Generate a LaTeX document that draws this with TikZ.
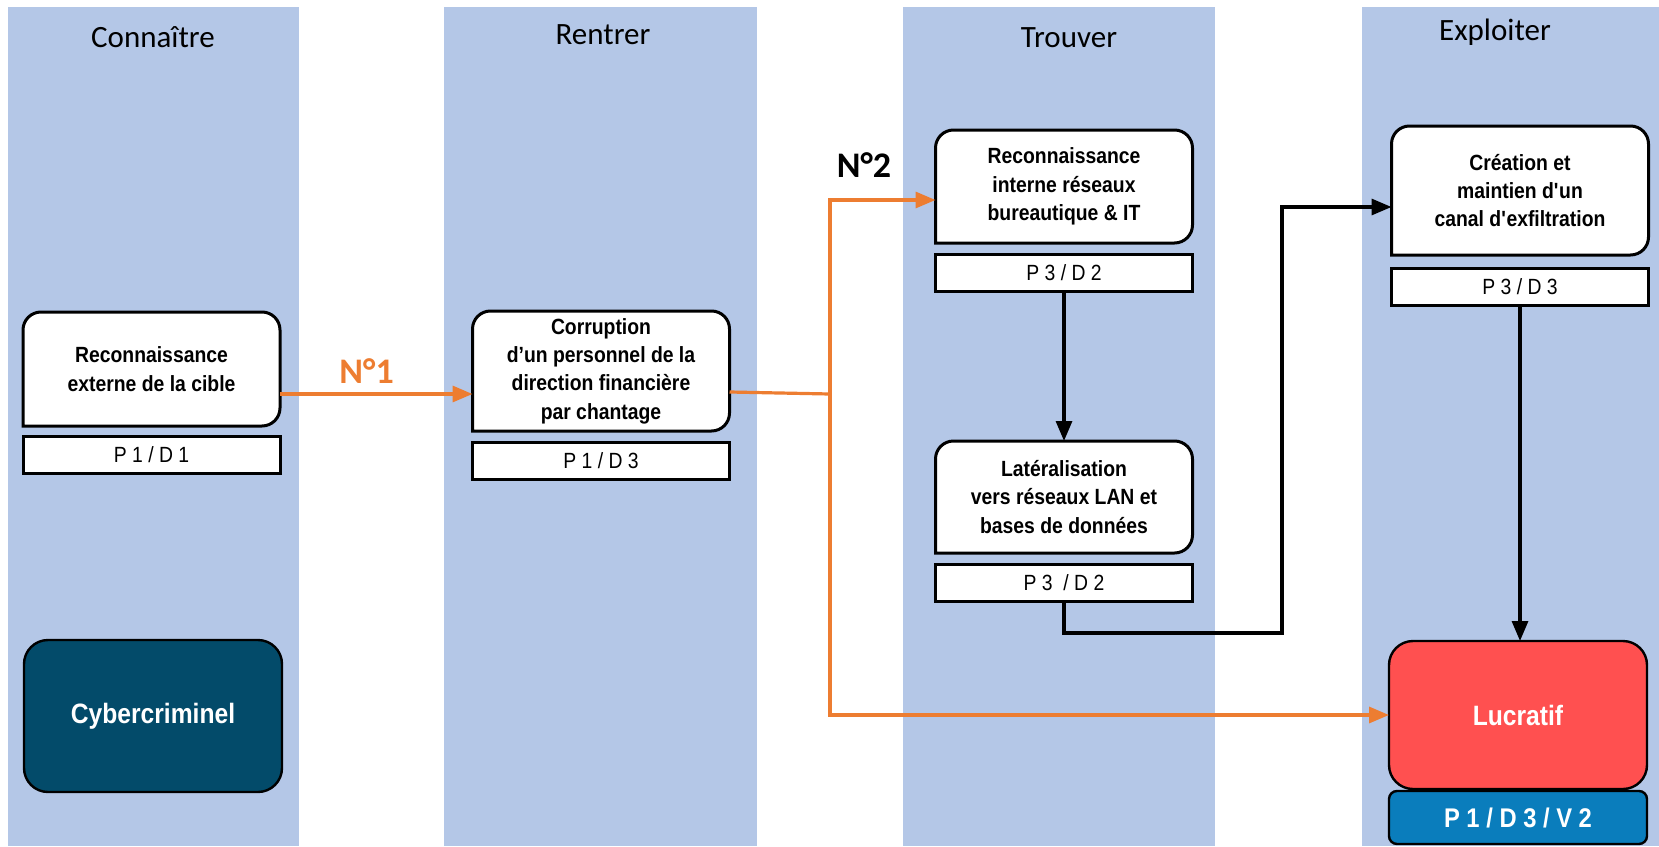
\documentclass[tikz,border=0pt]{standalone}
\usepackage{fontspec}
\setmainfont{Carlito}
\newfontfamily\boxfont[FakeStretch=0.88]{Liberation Sans}
\usetikzlibrary{arrows.meta,positioning}

\definecolor{colbg}{HTML}{B4C7E7}
\definecolor{linkorange}{HTML}{ED7D31}
\definecolor{lucred}{HTML}{FF5050}
\definecolor{tagblue}{HTML}{0A7DBC}
\definecolor{crimblue}{HTML}{034B6A}

\pgfdeclarelayer{background}
\pgfdeclarelayer{frames}
\pgfsetlayers{background,frames,main}

\begin{document}
\begin{tikzpicture}[x=0.5pt, y=-0.5pt,
                stage boxes/.style={rectangle, outer sep=0pt, inner sep=2pt,
                minimum width=128.5pt, minimum height=57pt,
                text=black, align=center,
                font=\boxfont\bfseries\fontsize{11}{14.2}\selectfont},
                tag boxes/.style={draw, rectangle, line width=1.5pt, fill=white,
                outer sep=0pt, inner sep=0pt,
                minimum width=128.5pt, minimum height=18.5pt,
                font=\boxfont\fontsize{11}{12}\selectfont},
                goal boxes/.style={draw, rectangle, rounded corners=12pt,
                line width=1.2pt, outer sep=0pt, minimum width=129pt,
                text=white, font=\boxfont\bfseries\fontsize{14}{16}\selectfont},
                % Define styles for the texts and links
                header/.style={font=\fontsize{15.5}{18}\selectfont},
                num/.style={font=\bfseries\fontsize{18}{20}\selectfont},
                flow/.style={line width=1.6pt, -{Triangle[length=10pt,width=8pt]}}
                ]
\useasboundingbox (0,0) rectangle (1659,846);

%% Columns
\begin{pgfonlayer}{background}
\foreach \xa/\xb in {8/299, 444/757, 903/1215, 1362/1659}
  \fill[colbg] (\xa,7) rectangle (\xb,846);
\end{pgfonlayer}

\node[header] (hknow) at (153,37) {Connaître};
\node[header] (henter) at (603,35) {Rentrer};
\node[header] (hfind) at (1069,38) {Trouver};
\node[header] (hexploit) at (1495,32) {Exploiter};

%% Steps
\node[stage boxes] (recext) at (151.5,369) {Reconnaissance\\externe de la cible};
\node[tag boxes, below=5pt of recext] (recextp) {P 1 / D 1};

\node[stage boxes, minimum height=60pt] (corrupt) at (601,371) {Corruption\\d’un personnel de la\\direction financière\\par chantage};
\node[tag boxes, below=5.5pt of corrupt] (corruptp) {P 1 / D 3};

\node[stage boxes, minimum height=56.5pt] (recint) at (1064,186.5) {Reconnaissance\\interne réseaux\\bureautique \& IT};
\node[tag boxes, below=5.5pt of recint] (recintp) {P 3 / D 2};

\node[stage boxes, minimum height=56pt] (lateral) at (1064,497) {Latéralisation\\vers réseaux LAN et\\bases de données};
\node[tag boxes, below=5.5pt of lateral] (lateralp) {P 3~ / D 2};

\node[stage boxes, minimum height=64.5pt] (canal) at (1520,190.5) {Création et\\maintien d\textquotesingle un\\canal d\textquotesingle exfiltration};
\node[tag boxes, below=6.5pt of canal] (canalp) {P 3 / D 3};

%% Frames with rounded top corners
\begin{pgfonlayer}{frames}
\foreach \n in {recext,corrupt,recint,lateral,canal}
  \draw[line width=1.5pt, fill=white] (\n.south west) [rounded corners=9pt] -- (\n.north west)
    -- (\n.north east) -- (\n.south east) [sharp corners] -- cycle;
\end{pgfonlayer}

%% Actor and goal
\node[goal boxes, fill=crimblue, minimum height=76pt] (crim) at (153,716) {Cybercriminel};
\node[goal boxes, fill=lucred, minimum height=74pt] (lucratif) at (1518,715) {Lucratif};
\node[goal boxes, fill=tagblue, rounded corners=4pt, minimum height=26.5pt,
      font=\boxfont\bfseries\fontsize{13.5}{15}\selectfont, below=1pt of lucratif] (lucratifp) {P 1 / D 3 / V 2};

%% Scenario N°1
\draw[flow, linkorange] ([yshift=-12.5pt]recext.east) -- node[num, above=1pt, pos=0.45] (n1) {N°1} ([yshift=-11.5pt]corrupt.west);

%% Scenario N°2
\coordinate (fork) at (830,394);
\draw[line width=1.6pt, linkorange] ([yshift=-10.5pt]corrupt.east) -- (fork);
\draw[flow, linkorange] (fork) |- ([yshift=-6.75pt]recint.west);
\draw[flow, linkorange] (fork) |- (lucratif.west);
\node[num] (n2) at (864,165) {N°2};

%% Inside the network
\draw[flow] (recintp.south) -- (lateral.north);
\coordinate (detour) at (1282,633);
\draw[flow] (lateralp.south) |- (detour) |- ([yshift=-8.25pt]canal.west);
\draw[flow] (canalp.south) -- (canalp.south |- lucratif.north);

\end{tikzpicture}
\end{document}
